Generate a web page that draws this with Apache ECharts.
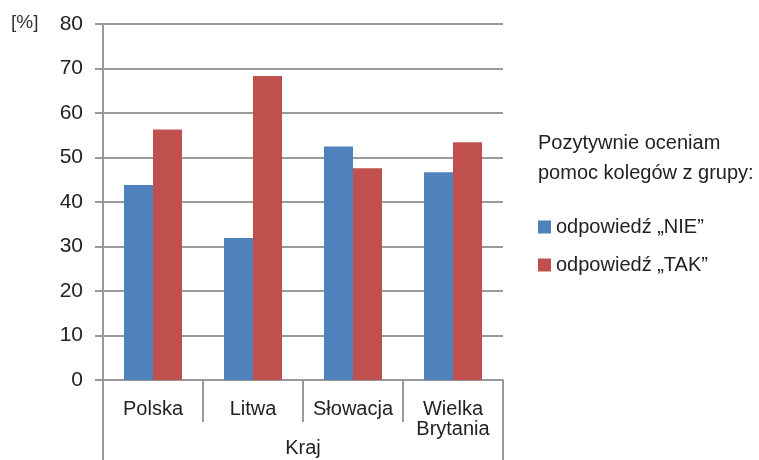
<!DOCTYPE html>
<html><head><meta charset="utf-8">
<script src="https://cdn.jsdelivr.net/npm/echarts@6/dist/echarts.min.js"></script>
<style>html,body{margin:0;padding:0;background:#fff}#c{width:759px;height:460px}</style>
</head><body><div id="c"></div>
<script>
const categories = ['Polska', 'Litwa', 'Słowacja', 'Wielka\nBrytania'];
const valuesNie = [43.8, 31.9, 52.5, 46.7];
const valuesTak = [56.3, 68.3, 47.6, 53.4];
const seriesNames = ['odpowiedź „NIE”', 'odpowiedź „TAK”'];
const axisTitle = 'Kraj';
const unitLabel = '[%]';
const legendTitle = 'Pozytywnie oceniam\npomoc kolegów z grupy:';

const FONT = 'Liberation Sans';
const GRAY = '#999999';
const chart = echarts.init(document.getElementById('c'));
chart.setOption({
  animation: false,
  textStyle: { fontFamily: FONT },
  grid: { left: 103, right: 256, top: 24, bottom: 80 },
  title: {
    text: legendTitle, left: 533, top: 123,
    textStyle: { fontFamily: FONT, fontWeight: 'normal', fontSize: 20, color: '#222', lineHeight: 30 }
  },
  legend: {
    orient: 'vertical', left: 533, top: 212, itemGap: 18,
    itemWidth: 13, itemHeight: 13, icon: 'rect',
    textStyle: { fontFamily: FONT, fontSize: 20, color: '#222' },
    data: seriesNames
  },
  graphic: [{
    type: 'text', left: 11, top: 13,
    style: { text: unitLabel, font: '19px "Liberation Sans"', fill: '#333' }
  }],
  xAxis: [{
    type: 'category', data: categories, position: 'bottom',
    axisLine: { lineStyle: { color: GRAY, width: 2 } },
    axisTick: { show: true, interval: 0, length: 42, lineStyle: { color: GRAY, width: 2 } },
    axisLabel: { color: '#222', fontSize: 20, margin: 19, lineHeight: 20, interval: 0 }
  }, {
    type: 'category', data: [axisTitle], position: 'bottom', gridIndex: 0,
    axisLine: { show: false },
    axisTick: { show: true, interval: 0, length: 82, lineStyle: { color: GRAY, width: 2 } },
    axisLabel: { color: '#222', fontSize: 20, margin: 58 }
  }],
  yAxis: {
    type: 'value', min: 0, max: 80, interval: 10,
    axisLine: { show: true, lineStyle: { color: GRAY, width: 2 } },
    axisTick: { show: true, length: 8, lineStyle: { color: GRAY, width: 2 } },
    axisLabel: { color: '#222', fontSize: 21, margin: 20 },
    splitLine: { lineStyle: { color: GRAY, width: 2 } }
  },
  series: [{
    name: seriesNames[0], type: 'bar', data: valuesNie, barWidth: 29, barGap: '0%',
    itemStyle: { color: '#4F81BD' }
  }, {
    name: seriesNames[1], type: 'bar', data: valuesTak, barWidth: 29, barGap: '0%',
    itemStyle: { color: '#C0504D' }
  }]
});
</script></body></html>
